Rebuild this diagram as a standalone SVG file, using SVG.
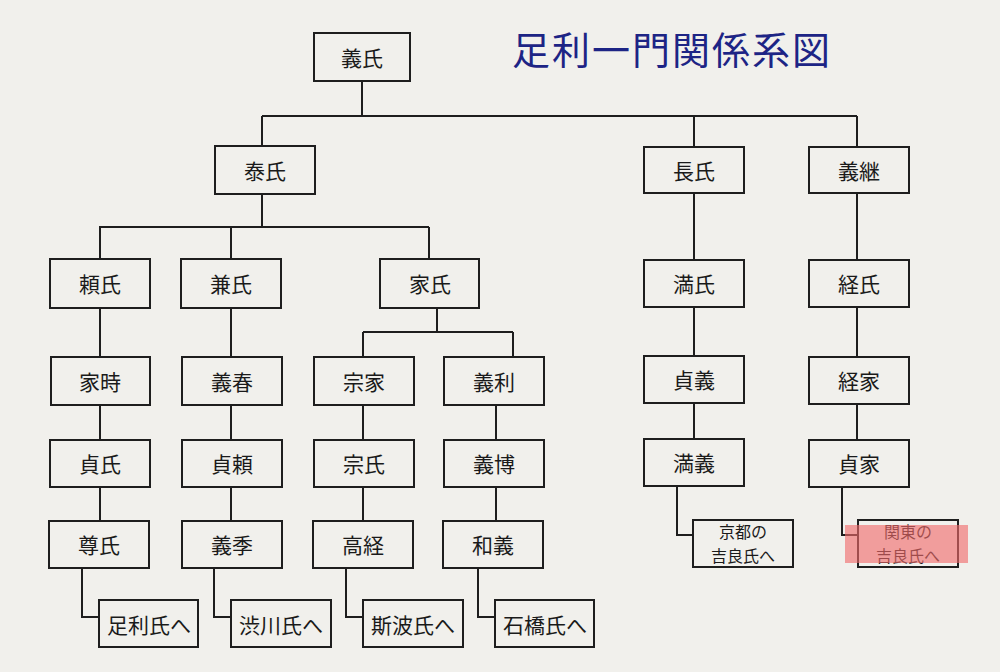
<svg xmlns="http://www.w3.org/2000/svg" width="1000" height="672" viewBox="0 0 1000 672">
<style>
.bg{fill:#f1f0ec}
.box{fill:none;stroke:#1e1e1e;stroke-width:2}
.t{font-family:"Noto Sans CJK JP","Noto Sans CJK SC",sans-serif;font-size:21px;fill:#1a1a1a;text-anchor:middle;dominant-baseline:central}
.t2{font-family:"Noto Sans CJK JP","Noto Sans CJK SC",sans-serif;font-size:16px;fill:#1a1a1a;text-anchor:middle}
.title{font-family:"Noto Sans CJK JP","Noto Sans CJK SC",sans-serif;font-size:38px;fill:#1d2485}
.c{fill:none;stroke:#1e1e1e;stroke-width:2}
</style>
<rect class="bg" x="0" y="0" width="1000" height="672"/>
<text class="title" x="512" y="64" textLength="318">足利一門関係系図</text>
<g id="connectors">
<path class="c" d="M362 81V116M262 116H857M262 116V146M694 116V147M857 116V147"/>
<path class="c" d="M262 194V227M99 227H429M100 227V259M231 227V259M429 227V259"/>
<path class="c" d="M100 308V357M100 405V440M100 487V521M82 568V617H99"/>
<path class="c" d="M231 308V357M231 405V440M231 487V521M214 568V617H231"/>
<path class="c" d="M437 308V332M363 332H513M363 332V357M513 332V357"/>
<path class="c" d="M363 405V440M363 487V521M346 568V617H363"/>
<path class="c" d="M496 405V440M496 487V521M478 568V617H495"/>
<path class="c" d="M694 193V260M694 307V356M694 403V439M677 486V535H693"/>
<path class="c" d="M857 193V260M857 307V357M857 404V440M842 487V535H858"/>
</g>
<g id="n-yoshiuji"><rect class="box" x="314" y="33" width="96" height="48"/><text class="t" x="362" y="57">義氏</text></g>
<g id="n-yasuuji"><rect class="box" x="215" y="146" width="100" height="48"/><text class="t" x="265" y="170">泰氏</text></g>
<g id="n-osauji"><rect class="box" x="644" y="147" width="100" height="46"/><text class="t" x="694" y="170">長氏</text></g>
<g id="n-yoshitsugu"><rect class="box" x="809" y="147" width="100" height="46"/><text class="t" x="859" y="170">義継</text></g>
<g id="n-yoriuji"><rect class="box" x="50" y="259" width="100" height="49"/><text class="t" x="100" y="283">頼氏</text></g>
<g id="n-kaneuji"><rect class="box" x="181" y="259" width="100" height="49"/><text class="t" x="231" y="283">兼氏</text></g>
<g id="n-ieuji"><rect class="box" x="380" y="259" width="99" height="49"/><text class="t" x="430" y="283">家氏</text></g>
<g id="n-mitsuuji"><rect class="box" x="644" y="260" width="100" height="47"/><text class="t" x="694" y="283">満氏</text></g>
<g id="n-tsuneuji"><rect class="box" x="809" y="260" width="100" height="47"/><text class="t" x="859" y="283">経氏</text></g>
<g id="n-ietoki"><rect class="box" x="51" y="357" width="99" height="48"/><text class="t" x="100" y="381">家時</text></g>
<g id="n-yoshiharu"><rect class="box" x="182" y="357" width="100" height="48"/><text class="t" x="232" y="381">義春</text></g>
<g id="n-muneie"><rect class="box" x="314" y="357" width="100" height="48"/><text class="t" x="364" y="381">宗家</text></g>
<g id="n-yoshitoshi"><rect class="box" x="444" y="357" width="100" height="48"/><text class="t" x="494" y="381">義利</text></g>
<g id="n-sadayoshi"><rect class="box" x="644" y="356" width="100" height="47"/><text class="t" x="694" y="379">貞義</text></g>
<g id="n-tsuneie"><rect class="box" x="809" y="357" width="100" height="47"/><text class="t" x="859" y="380">経家</text></g>
<g id="n-sadauji"><rect class="box" x="50" y="440" width="100" height="47"/><text class="t" x="100" y="463">貞氏</text></g>
<g id="n-sadayori"><rect class="box" x="182" y="440" width="100" height="47"/><text class="t" x="232" y="463">貞頼</text></g>
<g id="n-muneuji"><rect class="box" x="314" y="440" width="100" height="47"/><text class="t" x="364" y="463">宗氏</text></g>
<g id="n-yoshihiro"><rect class="box" x="444" y="440" width="100" height="47"/><text class="t" x="494" y="463">義博</text></g>
<g id="n-mitsuyoshi"><rect class="box" x="644" y="439" width="100" height="47"/><text class="t" x="694" y="462">満義</text></g>
<g id="n-sadaie"><rect class="box" x="809" y="440" width="100" height="47"/><text class="t" x="859" y="463">貞家</text></g>
<g id="n-takauji"><rect class="box" x="49" y="521" width="100" height="47"/><text class="t" x="99" y="544">尊氏</text></g>
<g id="n-yoshisue"><rect class="box" x="182" y="521" width="100" height="47"/><text class="t" x="232" y="544">義季</text></g>
<g id="n-takatsune"><rect class="box" x="313" y="521" width="100" height="47"/><text class="t" x="363" y="544">高経</text></g>
<g id="n-kazuyoshi"><rect class="box" x="443" y="521" width="100" height="47"/><text class="t" x="493" y="544">和義</text></g>
<g id="n-ashikaga"><rect class="box" x="99" y="600" width="99" height="47"/><text class="t" x="149" y="624">足利氏へ</text></g>
<g id="n-shibukawa"><rect class="box" x="231" y="600" width="100" height="47"/><text class="t" x="281" y="624">渋川氏へ</text></g>
<g id="n-shiba"><rect class="box" x="363" y="600" width="100" height="47"/><text class="t" x="413" y="624">斯波氏へ</text></g>
<g id="n-ishibashi"><rect class="box" x="495" y="600" width="99" height="47"/><text class="t" x="545" y="624">石橋氏へ</text></g>
<g id="n-kyoto-kira"><rect class="box" x="693" y="520" width="100" height="47"/><text class="t2"><tspan x="743" y="538">京都の</tspan><tspan x="743" y="562">吉良氏へ</tspan></text></g>
<g id="n-kanto-kira"><rect class="box" x="858" y="520" width="100" height="47"/><text class="t2"><tspan x="908" y="538">関東の</tspan><tspan x="908" y="562">吉良氏へ</tspan></text><rect x="845" y="525" width="123" height="38" fill="#f06a6a" opacity="0.62"/></g>
</svg>
